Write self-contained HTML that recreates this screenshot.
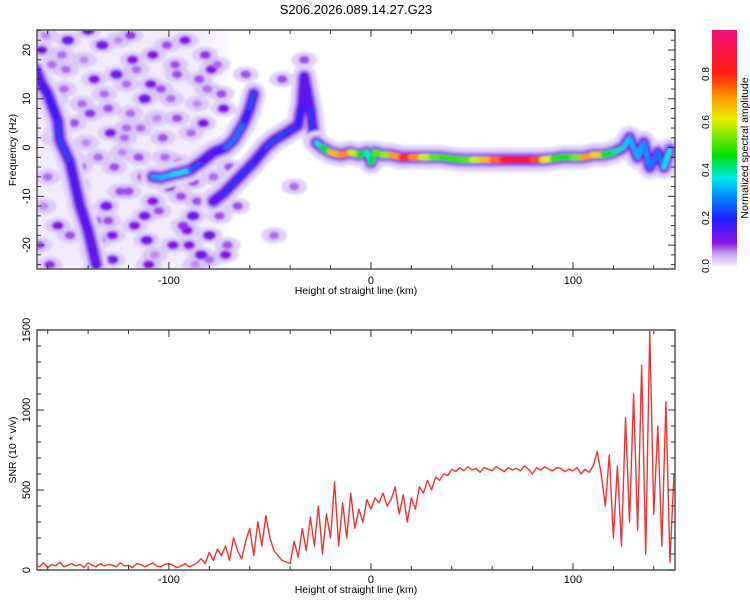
<!DOCTYPE html>
<html><head><meta charset="utf-8"><style>
body{margin:0;background:#fff;}
svg{display:block;font-family:"Liberation Sans",sans-serif;}
</style></head><body>
<svg id="c" width="750" height="600">
<defs>
<filter id="blur" x="-20%" y="-20%" width="140%" height="140%"><feGaussianBlur stdDeviation="1.4"/></filter>
<clipPath id="clipTop"><rect x="37" y="30" width="638" height="239"/></clipPath>
<clipPath id="clipBot"><rect x="37" y="330" width="638" height="240"/></clipPath>
<linearGradient id="washGrad" x1="0" y1="0" x2="1" y2="0">
<stop offset="0" stop-color="#efe6fc"/><stop offset="0.8" stop-color="#efe6fc"/><stop offset="1" stop-color="#efe6fc" stop-opacity="0"/>
</linearGradient>
<linearGradient id="cbar" x1="0" y1="1" x2="0" y2="0">
<stop offset="0" stop-color="#f4eeff"/><stop offset="0.05" stop-color="#c9a6f2"/><stop offset="0.1" stop-color="#8a10e6"/>
<stop offset="0.2" stop-color="#2020ff"/><stop offset="0.3" stop-color="#0090ff"/><stop offset="0.37" stop-color="#00e8f0"/>
<stop offset="0.47" stop-color="#00e000"/><stop offset="0.62" stop-color="#e8f000"/><stop offset="0.72" stop-color="#ff9000"/>
<stop offset="0.82" stop-color="#ff1a10"/><stop offset="1" stop-color="#f01078"/>
</linearGradient>
</defs>
<text x="356" y="14" text-anchor="middle" font-size="13">S206.2026.089.14.27.G23</text>
<g id="topPanel"></g>
<g id="botPanel"></g>
<g>
<rect x="712" y="30" width="25" height="236" fill="url(#cbar)"/>
<g font-size="10" fill="#000">
<text transform="translate(709,266) rotate(-90)" text-anchor="middle">0.0</text>
<text transform="translate(709,218) rotate(-90)" text-anchor="middle">0.2</text>
<text transform="translate(709,170) rotate(-90)" text-anchor="middle">0.4</text>
<text transform="translate(709,122) rotate(-90)" text-anchor="middle">0.6</text>
<text transform="translate(709,74) rotate(-90)" text-anchor="middle">0.8</text>
<text transform="translate(748,148) rotate(-90)" text-anchor="middle" font-size="10.5">Normalized spectral amplitude</text>
</g>
</g>
</svg>
<script>
const NS='http://www.w3.org/2000/svg';
// ---- data ----
const xDomain=[-165.3,150.5];
const fDomain=[-24.9,24.1];
const snrDomain=[0,1500];
const xTicks=[-100,0,100];
const fTicks=[-20,-10,0,10,20];
const snrTicks=[0,500,1000,1500];
const snrStart=-166, snrStep=2;
const snrValues=[30,20,45,15,35,25,50,20,30,40,25,35,15,45,30,20,40,25,35,30,20,45,25,30,15,40,35,20,30,45,25,20,35,40,30,15,25,40,20,30,
45,70,40,110,60,130,
90,150,60,200,120,70,180,
260,90,300,150,340,200,120,
90,60,50,40,
180,80,260,120,330,150,400,100,350,200,
550,150,420,200,480,260,380,300,440,
380,450,420,480,400,440,520,350,470,300,
450,380,520,480,560,500,580,560,600,590,
630,615,640,620,645,625,635,610,640,630,620,645,630,615,640,625,635,620,650,630,600,640,625,645,630,620,640,635,615,630,
620,640,600,630,610,650,
740,600,400,720,
200,650,150,950,300,1100,250,1280,100,1500,350,900,150,1050,50,600];
const b1X=[-166,-163,-160,-155,-154,-149,-144,-140,-136];
const b1F=[16,13,11,5.5,1.5,-3,-12,-17,-24];
const b1A=[.12,.15,.2,.18,.28,.2,.12,.15,.1];
const b2X=[-108,-104,-98,-90,-84,-78,-72,-68,-63,-60,-58];
const b2F=[-6,-6.2,-5.5,-4.7,-3,-1,0,1.5,5,8,11];
const b2A=[.35,.3,.38,.35,.15,.15,.2,.35,.2,.2,.3];
const b3X=[-78,-73,-65,-58,-52,-48,-42,-36,-34,-33,-30,-28];
const b3F=[-11,-9.4,-6,-3,0,1.5,3,4.6,9,14.5,8,1.5];
const b3A=[.12,.15,.3,.15,.2,.28,.2,.25,.15,.12,.15,.3];
const b4X=[-27,-24,-20,-15,-10,-6,-2,0,2,6,10,15,20,25,30,35,40,45,50,55,60,65,70,75,80,85,90,95,100,105,110,115,120,125,128,132,135,138,142,145,148];
const b4F=[1,0,-1,-1.5,-1,-1.5,-1,-3,-1,-1.5,-1.5,-2,-2,-2,-2,-2,-2.3,-2.5,-2.5,-2.5,-2.5,-2.5,-2.5,-2.5,-2.5,-2.5,-2.3,-2,-2,-2,-1.5,-1.5,-1,0,2,-2,1,-4,-1,-4,-0.5];
const b4A=[.35,.4,.5,.85,.6,.6,.35,.4,.5,.55,.6,.8,.8,.65,.55,.5,.5,.5,.55,.65,.7,.8,.85,.9,.85,.7,.55,.45,.5,.6,.8,.5,.4,.4,.3,.35,.3,.3,.25,.3,.45];
const nX=[-163,-158,-150,-147,-140,-137,-133,-130,-126,-122,-118,-115,-112,-108,-104,-100,-96,-92,-88,-85,-80,-77,-73,-70,-160,-155,-148,-143,-138,-131,-127,-121,-117,-111,-105,-98,-94,-89,-84,-79,-75,-164,-152,-145,-135,-128,-124,-119,-113,-109,-102,-97,-91,-86,-81,-72,-66,-62,-48,-44,-38,-33,
-161,-156,-151,-146,-141,-136,-132,-128,-123,-119,-114,-110,-106,-101,-95,-90,-86,-82,-78,-74,-162,-157,-153,-149,-142,-139,-134,-129,-125,-120,-116,-112,-107,-103,-99,-93,-87,-83,-76,-71,-159,-144,-130,-121,-108,-96,-88,-80];
const nF=[20,17,22,5,24,14,21,8,15,2,18,-2,10,19,12,-8,6,22,-14,14,-18,-10,8,-4,-6,-16,-2,9,-21,-12,-4,4,-16,-19,-13,-20,-10,3,-22,16,-14,-20,12,-8,-2,-18,-9,7,-6,13,-2,17,-17,-11,12,-22,-12,15,-18,14,-8,18,
23,10,16,-7,1,-15,11,-23,-1,23,4,-24,6,21,-3,-20,9,19,-6,11,-12,2,19,-18,18,7,-19,3,22,-9,16,-14,-22,2,10,-16,-24,5,17,-20,-24,-4,-15,13,-11,15,-7,-23];
const nA=[.1,.07,.12,.08,.12,.1,.12,.08,.12,.07,.1,.08,.12,.1,.08,.12,.08,.1,.12,.08,.12,.08,.1,.08,.07,.1,.08,.07,.12,.12,.08,.07,.1,.12,.08,.1,.08,.07,.12,.1,.08,.08,.07,.08,.07,.1,.08,.07,.08,.1,.07,.08,.1,.08,.07,.1,.08,.08,.07,.08,.07,.08,
.06,.08,.07,.1,.06,.08,.07,.11,.06,.09,.07,.1,.06,.08,.07,.1,.06,.09,.07,.08,.06,.1,.07,.08,.06,.09,.07,.1,.06,.08,.07,.11,.06,.08,.07,.09,.06,.1,.07,.08,.09,.1,.08,.07,.1,.08,.09,.07];
// ---- scales ----
const xs=v=>37+(v-xDomain[0])/(xDomain[1]-xDomain[0])*638;
const fs=v=>269-(v-fDomain[0])/(fDomain[1]-fDomain[0])*239;
const ss=v=>570-(v-snrDomain[0])/(snrDomain[1]-snrDomain[0])*240;
const stops=[[0,[244,238,255]],[.05,[201,166,242]],[.1,[138,16,230]],[.2,[32,32,255]],[.3,[0,144,255]],[.37,[0,232,240]],[.47,[0,224,0]],[.62,[232,240,0]],[.72,[255,144,0]],[.82,[255,26,16]],[1,[240,16,120]]];
function cmap(v){for(let i=1;i<stops.length;i++){if(v<=stops[i][0]){const a=stops[i-1],b=stops[i],t=(v-a[0])/(b[0]-a[0]);return 'rgb('+a[1].map((c,k)=>Math.round(c+(b[1][k]-c)*t)).join(',')+')';}}return 'rgb(240,16,120)';}
function mk(tag,attrs,parent){const e=document.createElementNS(NS,tag);for(const k in attrs)e.setAttribute(k,attrs[k]);parent.appendChild(e);return e;}
const topG=document.getElementById('topPanel'), botG=document.getElementById('botPanel');
// ---- spectrogram ----
const hm=mk('g',{'clip-path':'url(#clipTop)',filter:'url(#blur)'},topG);


const wash=mk('rect',{x:xs(-166),y:30,width:xs(-66)-xs(-166),height:239,fill:'url(#washGrad)',opacity:0.8},hm);


for(let i=0;i<nX.length;i++){
 const h=mk('ellipse',{cx:xs(nX[i]),cy:fs(nF[i]),rx:13,ry:8,fill:'#d6c0f6',opacity:0.75},hm);
 
 
}
for(let i=0;i<nX.length;i++){
 const e=mk('ellipse',{cx:xs(nX[i]),cy:fs(nF[i]),rx:3+nA[i]*30,ry:2.5+nA[i]*20,fill:cmap(nA[i])},hm);
 
 
}
function branch(X,F,A,name){
 const g=mk('g',{},hm);
 
 
 const pts=X.map((x,i)=>xs(x)+','+fs(F[i])).join(' ');
 mk('polyline',{points:pts,fill:'none',stroke:'#e2d2fa','stroke-width':24,'stroke-linejoin':'round','stroke-linecap':'round'},g);
 mk('polyline',{points:pts,fill:'none',stroke:'#b48ef0','stroke-width':15,'stroke-linejoin':'round','stroke-linecap':'round'},g);
 mk('polyline',{points:pts,fill:'none',stroke:'#7010e0','stroke-width':10,'stroke-linejoin':'round','stroke-linecap':'round'},g);
 mk('polyline',{points:pts,fill:'none',stroke:'#3a20f0','stroke-width':6,'stroke-linejoin':'round','stroke-linecap':'round',opacity:0.7},g);
 for(let i=0;i<X.length-1;i++){
  const a=(A[i]+A[i+1])/2;
  const s=mk('line',{x1:xs(X[i]),y1:fs(F[i]),x2:xs(X[i+1]),y2:fs(F[i+1]),stroke:cmap(a),'stroke-width':a>0.4?6.5:(a>0.25?4.5:3),'stroke-linecap':'round'},g);
  
  
 }
}
branch(b1X,b1F,b1A,'ridge-left');
branch(b2X,b2F,b2A,'ridge-rising-a');
branch(b3X,b3F,b3A,'ridge-rising-b');
branch(b4X,b4F,b4A,'ridge-main');
function frame(g,y0,y1,yTicksV,ys,minorY,xLabelY,yTitle,yTitleY){
 mk('rect',{x:37,y:y0,width:638,height:y1-y0,fill:'none',stroke:'#555','stroke-width':1.5},g);
 for(let v=-160;v<=150;v+=20){const x=xs(v);const major=xTicks.includes(v);const L=major?7:4;
  mk('line',{x1:x,y1:y1,x2:x,y2:y1-L,stroke:'#333'},g);mk('line',{x1:x,y1:y0,x2:x,y2:y0+L,stroke:'#333'},g);}
 for(const v of minorY){const y=ys(v);const major=yTicksV.includes(v);const L=major?7:4;
  mk('line',{x1:37,y1:y,x2:37+L,y2:y,stroke:'#333'},g);mk('line',{x1:675,y1:y,x2:675-L,y2:y,stroke:'#333'},g);}
 xTicks.forEach(v=>{const t=mk('text',{x:xs(v),y:xLabelY,'text-anchor':'middle','font-size':11},g);t.textContent=v;
  
  });
 yTicksV.forEach(v=>{const t=mk('text',{transform:'translate(30,'+ys(v)+') rotate(-90)','text-anchor':'middle','font-size':11},g);t.textContent=v;
  
  });
 const xt=mk('text',{x:356,y:xLabelY+10,'text-anchor':'middle','font-size':10.5},g);xt.textContent='Height of straight line (km)';
 
 
 const yt=mk('text',{transform:'translate(16,'+yTitleY+') rotate(-90)','text-anchor':'middle','font-size':10.5},g);yt.textContent=yTitle;
 
 
}
const fMinor=[];for(let v=-24;v<=24;v+=2)fMinor.push(v);
frame(topG,30,269,fTicks,fs,fMinor,284,'Frequency (Hz)',150);
const lg=mk('g',{'clip-path':'url(#clipBot)'},botG);
const pts=snrValues.map((v,i)=>xs(snrStart+i*snrStep)+','+ss(v)).join(' ');
const line=mk('polyline',{points:pts,fill:'none',stroke:'#ee3333','stroke-width':1.4,'stroke-linejoin':'round'},lg);


const sMinor=[];for(let v=0;v<=1500;v+=100)sMinor.push(v);
frame(botG,330,570,snrTicks,ss,sMinor,583,'SNR (10 * v/v)',450);
</script>
</body></html>
